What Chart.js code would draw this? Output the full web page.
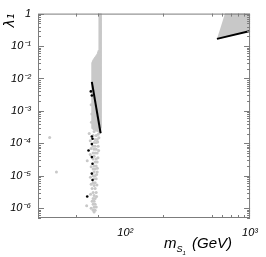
<!DOCTYPE html>
<html lang="en">
<head>
<meta charset="UTF-8">
<title>lambda1 vs mS1</title>
<script src="https://cdn.jsdelivr.net/npm/chart.js"></script>
<style>
  html, body { margin: 0; padding: 0; background: #fff; }
</style>
</head>
<body>
<canvas id="myChart" width="266" height="257"></canvas>
<script>
// axes: x = m_S1 (GeV), y = lambda_1, both log
var xTicks = [100, 1000];
var xTickLabels = ['10²', '10³'];
var xMinorTicks = [40, 60, 200, 500, 600, 700, 800, 900];
var yTicks = [1e-6, 1e-5, 1e-4, 1e-3, 1e-2, 1e-1, 1];
var yTickLabels = ['10⁻⁶', '10⁻⁵', '10⁻⁴', '10⁻³', '10⁻²', '10⁻¹', '1'];

// black lines
var lowLine = [[54.0, 7.9e-3], [63.5, 2.05e-4]];
var highLine = [[543, 0.166], [1000, 0.291]];

// grey regions (outlines)
var lowRegion = [[61.0, 1], [64.3, 1], [64.0, 3.0e-4], [63.5, 2.05e-4], [54.0, 2.85e-4],
                 [54.0, 0.0305], [55.3, 0.0377], [57.4, 0.0465], [59.6, 0.057], [61.0, 0.0757]];
var highRegion = [[543, 0.166], [1000, 0.291], [1000, 1], [630, 1]];

// scattered points
var blackPoints = [[53.0, 4.0e-3], [54.0, 3.0e-3], [54.0, 1.63e-4], [54.7, 1.39e-4], [54.0, 9.5e-5],
                   [50.8, 6.0e-5], [54.0, 3.77e-5], [54.7, 2.36e-5], [54.0, 1.17e-5], [54.7, 7.4e-6],
                   [49.6, 2.31e-6]];
var greyPoints = [[56.3, 2.31e-4], [58.5, 1.75e-4], [55.3, 1.75e-4], [57.4, 1.32e-4], [59.6, 1.32e-4],
                  [56.3, 1.07e-4], [58.5, 1.07e-4], [55.3, 8.1e-5], [57.4, 8.1e-5], [60.7, 8.1e-5],
                  [56.3, 6.6e-5], [58.5, 6.6e-5], [55.3, 5.0e-5], [57.4, 5.0e-5], [59.6, 5.0e-5],
                  [49.6, 2.9e-5], [56.3, 4.0e-5], [58.5, 3.27e-5], [55.3, 3.27e-5], [57.4, 2.66e-5],
                  [59.6, 2.66e-5], [56.3, 2.01e-5], [58.5, 2.01e-5], [55.3, 1.63e-5], [57.4, 1.63e-5],
                  [56.3, 1.32e-5], [59.6, 1.32e-5], [55.3, 1.0e-5], [57.4, 1.0e-5], [56.3, 8.1e-6],
                  [58.5, 8.1e-6], [55.3, 6.1e-6], [57.4, 6.1e-6], [56.3, 5.0e-6], [54.3, 4.05e-6],
                  [57.4, 4.05e-6], [55.3, 3.06e-6], [58.5, 3.06e-6], [56.3, 2.48e-6], [55.3, 2.01e-6],
                  [57.4, 2.01e-6], [56.3, 1.63e-6], [54.3, 1.63e-6], [55.3, 1.32e-6], [57.4, 1.32e-6],
                  [56.3, 1.07e-6], [55.3, 8.7e-7], [57.4, 8.7e-7], [56.3, 7.6e-7], [49.1, 1.2e-6],
                  [60.7, 1.9e-4], [61.5, 1.5e-4], [60.2, 1.1e-4], [61.2, 6.0e-5], [52.4, 1.2e-4],
                  [53.3, 7.0e-5], [52.4, 4.5e-5], [60.5, 3.6e-5], [53.3, 1.9e-5], [59.8, 1.7e-5],
                  [52.6, 9.0e-6], [59.0, 1.1e-5], [53.3, 5.5e-6], [59.3, 5.2e-6], [52.8, 2.7e-6],
                  [58.9, 2.3e-6], [53.3, 1.0e-6], [58.6, 1.1e-6], [51.4, 2.0e-4], [53.3, 1.55e-3],
                  [54.0, 8.0e-4], [53.6, 4.5e-4], [24.8, 1.52e-4], [28.1, 1.32e-5]];

function pts(list) {
    return list.map(function (p) { return {x: p[0], y: p[1]}; });
}

var GREY = '#c8c8c8';
var FRAME = '#7c7c7c';
var tickFont = {family: 'Liberation Sans', style: 'italic', size: 11};

var framePlugin = {
    id: 'frame',
    afterDatasetsDraw: function (chart) {
        var c = chart.ctx, a = chart.chartArea;
        var sx = chart.scales.x, sy = chart.scales.y;
        c.save();
        c.strokeStyle = FRAME;
        c.lineWidth = 1;
        c.strokeRect(a.left + 0.5, a.top + 0.5, a.right - a.left - 1, a.bottom - a.top - 1);
        c.beginPath();
        for (var k = -7; k <= 0; k++) {
            for (var m = 1; m <= 9; m++) {
                var v = m * Math.pow(10, k);
                if (v < sy.min || v > sy.max) continue;
                var py = Math.round(sy.getPixelForValue(v)) + 0.5;
                var len = m === 1 ? 6 : 3;
                c.moveTo(a.left, py); c.lineTo(a.left + len, py);
                c.moveTo(a.right, py); c.lineTo(a.right - len, py);
            }
        }
        xMinorTicks.forEach(function (v) {
            var px = Math.round(sx.getPixelForValue(v)) + 0.5;
            c.moveTo(px, a.top); c.lineTo(px, a.top + 3);
            c.moveTo(px, a.bottom); c.lineTo(px, a.bottom - 3);
        });
        c.stroke();
        c.restore();
    },
    afterDraw: function (chart) {
        // x axis title m_{S_1} (GeV)
        var c = chart.ctx, a = chart.chartArea;
        var x = a.right - 86, y = a.bottom + 30;
        c.save();
        c.fillStyle = '#000';
        c.textBaseline = 'alphabetic';
        c.font = 'italic 15px "Liberation Sans"';
        c.fillText('m', x, y);
        x += c.measureText('m').width;
        c.font = 'italic 9px "Liberation Sans"';
        c.fillText('S', x, y + 4);
        x += c.measureText('S').width;
        c.font = 'italic 6px "Liberation Sans"';
        c.fillText('1', x, y + 7);
        x += c.measureText('1').width + 2;
        c.font = 'italic 15px "Liberation Sans"';
        c.fillText(' (GeV)', x, y);
        c.restore();
    }
};

var ctx = document.getElementById('myChart').getContext('2d');
var myChart = new Chart(ctx, {
    type: 'scatter',
    data: {
        datasets: [
            {data: pts(lowLine), showLine: true, borderColor: '#000', borderWidth: 2, pointRadius: 0},
            {data: pts(highLine), showLine: true, borderColor: '#000', borderWidth: 2, pointRadius: 0},
            {data: pts(blackPoints), backgroundColor: '#000', borderWidth: 0, pointRadius: 1.3},
            {data: pts(greyPoints), backgroundColor: GREY, borderWidth: 0, pointRadius: 1.5},
            {data: pts(lowRegion), showLine: true, fill: 'shape', backgroundColor: GREY,
             borderColor: GREY, borderWidth: 1, pointRadius: 0},
            {data: pts(highRegion), showLine: true, fill: 'shape', backgroundColor: GREY,
             borderColor: GREY, borderWidth: 1, pointRadius: 0}
        ]
    },
    options: {
        responsive: false,
        animation: false,
        layout: {padding: {top: 10, right: 14, left: 0, bottom: 0}},
        plugins: {legend: {display: false}, tooltip: {enabled: false}},
        scales: {
            x: {
                type: 'logarithmic', min: 20, max: 1000,
                grid: {display: false, drawTicks: false},
                border: {display: false},
                afterBuildTicks: function (s) { s.ticks = xTicks.map(function (v) { return {value: v}; }); },
                afterFit: function (s) { s.height = 39; },
                ticks: {
                    autoSkip: false, maxRotation: 0, padding: 8, color: '#000', font: tickFont,
                    callback: function (v) { var i = xTicks.indexOf(v); return i < 0 ? '' : xTickLabels[i]; }
                }
            },
            y: {
                type: 'logarithmic', min: 5e-7, max: 1,
                grid: {display: false, drawTicks: false},
                border: {display: false},
                afterBuildTicks: function (s) { s.ticks = yTicks.map(function (v) { return {value: v}; }); },
                afterFit: function (s) { s.width = 38; },
                title: {display: true, text: 'λ₁', align: 'end', padding: {top: 2, bottom: 0}, color: '#000',
                        font: {family: 'DejaVu Sans', style: 'italic', size: 14}},
                ticks: {
                    autoSkip: false, padding: 7, color: '#000', font: tickFont,
                    callback: function (v) { var i = yTicks.indexOf(v); return i < 0 ? '' : yTickLabels[i]; }
                }
            }
        }
    },
    plugins: [framePlugin]
});
</script>
</body>
</html>
